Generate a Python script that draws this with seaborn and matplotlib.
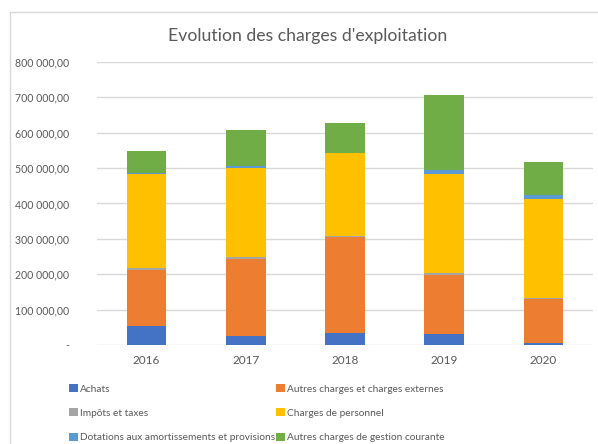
import numpy as np
import pandas as pd
import matplotlib
matplotlib.use("Agg")
import matplotlib.pyplot as plt
from matplotlib.patches import Rectangle, Patch
from matplotlib.ticker import FuncFormatter
import seaborn as sns

years = ["2016", "2017", "2018", "2019", "2020"]
series_names = [
    "Achats",
    "Autres charges et charges externes",
    "Impôts et taxes",
    "Charges de personnel",
    "Dotations aux amortissements et provisions",
    "Autres charges de gestion courante",
]
achats = [55000, 25500, 34000, 30000, 6000]
autres_ext = [158000, 218000, 271000, 169000, 123000]
impots = [4000, 4000, 4000, 5000, 5000]
personnel = [267000, 252000, 233000, 279000, 278000]
dotations = [1500, 6500, 1000, 11000, 11000]
gestion = [62000, 101000, 84000, 213000, 94000]
colors = ["#4472C4", "#ED7D31", "#A5A5A5", "#FFC000", "#5B9BD5", "#70AD47"]

sns.set_theme(style="white")
plt.rcParams["font.family"] = ["Lato", "DejaVu Sans"]

values = [achats, autres_ext, impots, personnel, dotations, gestion]
cum = np.cumsum(np.array(values, dtype=float), axis=0)

fig = plt.figure(figsize=(5.98, 4.44), dpi=100)
fig.patch.set_facecolor("white")
fig.patches.append(Rectangle((10 / 598, -0.05), 1.2, 1 - 12 / 444 + 0.05,
                             transform=fig.transFigure, fill=False,
                             edgecolor="#d9d9d9", linewidth=1.0, zorder=0))

ax = fig.add_axes([97 / 598, 1 - 345 / 444, 496 / 598, (345 - 62) / 444])

for i in range(len(values) - 1, -1, -1):
    df = pd.DataFrame({"year": years, "val": cum[i]})
    sns.barplot(data=df, x="year", y="val", color=colors[i], width=0.4,
                saturation=1, ax=ax, linewidth=0, edgecolor="none",
                zorder=3 + (len(values) - i))

ax.set_ylim(0, 800000)
ax.set_yticks(np.arange(0, 800001, 100000))


def fmt(v, pos):
    if v == 0:
        return "-"
    s = f"{int(v):,}".replace(",", " ")
    return s + ",00"


ax.yaxis.set_major_formatter(FuncFormatter(fmt))
ax.grid(axis="y", color="#d9d9d9", linewidth=1.0, zorder=0)
ax.set_axisbelow(True)
for sp in ax.spines.values():
    sp.set_visible(False)
ax.set_xlabel("")
ax.set_ylabel("")
ax.tick_params(axis="x", length=0, labelsize=8.5, colors="#595959", pad=7)
ax.tick_params(axis="y", length=0, labelsize=7.6, colors="#595959", pad=20)

fig.text(308 / 598, 1 - 36 / 444,
         "Evolution des charges d'exploitation",
         ha="center", va="center", fontsize=12.7, color="#595959")

hs = [Patch(facecolor=c, edgecolor="none") for c in colors]
order = [0, 2, 4, 1, 3, 5]
leg = fig.legend([hs[k] for k in order], [series_names[k] for k in order],
                 ncol=2, loc="upper left", bbox_to_anchor=(69 / 598, 1 - 384 / 444),
                 frameon=False, fontsize=7.3, handlelength=0.85, handleheight=0.85,
                 handletextpad=0.25, columnspacing=0.1, labelspacing=1.45,
                 borderaxespad=0, borderpad=0)
for t in leg.get_texts():
    t.set_color("#595959")

fig.savefig("out.png", dpi=100, facecolor="white")
